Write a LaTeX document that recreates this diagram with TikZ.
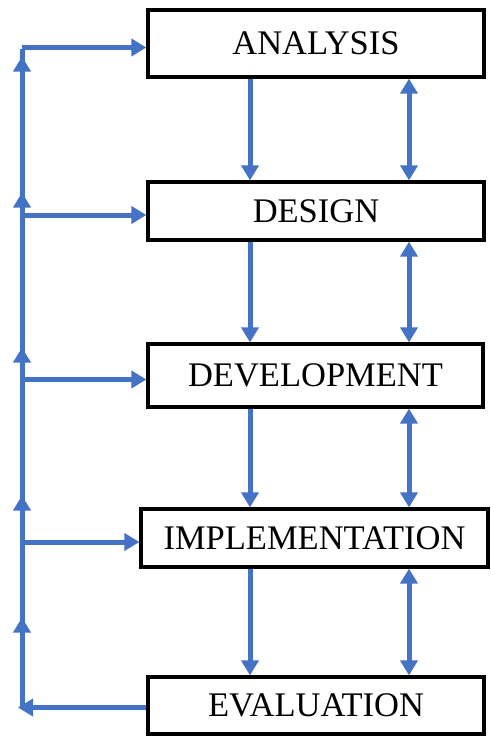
\documentclass[tikz,border=0pt]{standalone}
\usepackage{fontspec}
\setmainfont{Liberation Serif}
\usepackage{tikz}
\usetikzlibrary{arrows.meta,positioning,calc,decorations.markings}
\definecolor{flowblue}{RGB}{68,114,196}

\begin{document}
\begin{tikzpicture}[x=1pt, y=-1pt,
    stagebox/.style={draw=black, line width=3.2pt, fill=white, inner sep=0pt,
        font=\fontsize{34.5}{38}\selectfont},
    flowline/.style={draw=flowblue, line width=5pt},
    flow/.style={flowline, -{Triangle[width=17pt,length=15pt]}},
    twoway/.style={flowline, {Triangle[width=17pt,length=15pt]}-{Triangle[width=17pt,length=15pt]}}]
    \useasboundingbox (0,0) rectangle (490,736);

    \node[stagebox, minimum width=336pt, minimum height=67pt] (analysis) at (316,43.5) {ANALYSIS};
    \node[stagebox, minimum width=336pt, minimum height=58pt] (design) at (316,211) {DESIGN};
    \node[stagebox, minimum width=335pt, minimum height=63pt] (development) at (315.5,375.5) {DEVELOPMENT};
    \node[stagebox, minimum width=347pt, minimum height=58pt] (implementation) at (314.5,538) {IMPLEMENTATION};
    \node[stagebox, minimum width=336pt, minimum height=57pt] (evaluation) at (316,705.5) {EVALUATION};

    \coordinate (downx) at (250,0);
    \coordinate (bothx) at (409,0);
    \coordinate (busx) at (22,0);

    \foreach \upper/\lower in {analysis/design, design/development,
        development/implementation, implementation/evaluation} {
        \draw[flow] (\upper.south -| downx) -- (\lower.north -| downx);
        \draw[twoway] (\upper.south -| bothx) -- (\lower.north -| bothx);
    }

    \draw[flowline, postaction={decorate}, decoration={markings,
        mark=at position 90pt with {\arrow{Triangle[width=17pt,length=15pt]}},
        mark=at position 212pt with {\arrow{Triangle[width=17pt,length=15pt]}},
        mark=at position 360pt with {\arrow{Triangle[width=17pt,length=15pt]}},
        mark=at position 515pt with {\arrow{Triangle[width=17pt,length=15pt]}},
        mark=at position 651pt with {\arrow{Triangle[width=17pt,length=15pt]}}}]
        ([yshift=-2pt]evaluation.west -| busx) -- ([yshift=-5pt]analysis.west -| busx);

    \foreach \stage in {analysis, design, development, implementation}
        \draw[flow] ([yshift=-4pt]\stage.west -| busx) -- ([yshift=-4pt]\stage.west);
    \draw[flow] ([yshift=-2pt]evaluation.west) -- ([yshift=-2pt,xshift=-4pt]evaluation.west -| busx);
\end{tikzpicture}
\end{document}
